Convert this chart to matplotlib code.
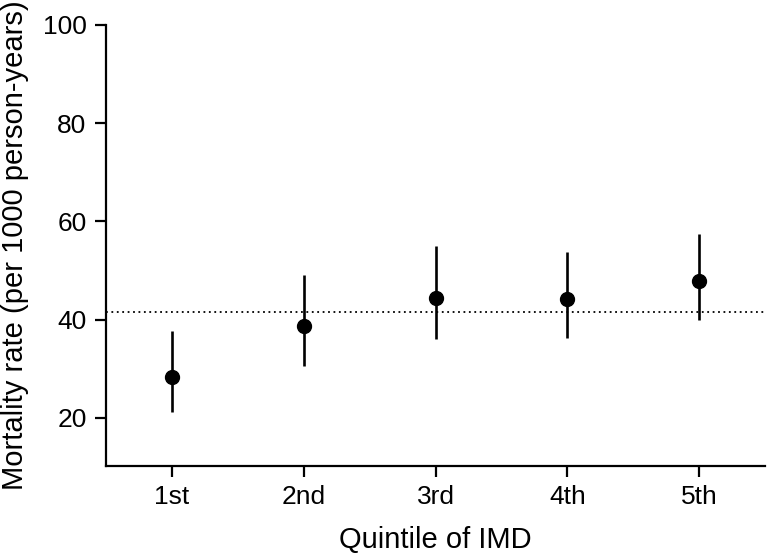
import matplotlib
matplotlib.use("Agg")
import matplotlib.pyplot as plt

categories = ["1st", "2nd", "3rd", "4th", "5th"]
rate = [28.3, 38.7, 44.5, 44.2, 47.9]
lower = [21.2, 30.5, 36.0, 36.3, 39.9]
upper = [37.7, 49.0, 55.1, 53.7, 57.4]
overall = 41.6
yticks = [20, 40, 60, 80, 100]

plt.rcParams['font.family'] = ['Liberation Sans', 'DejaVu Sans']

fig = plt.figure(figsize=(7.67, 5.56), dpi=100)
ax = fig.add_axes([106/767, 1-466/556, (765-106)/767, (466-25)/556])

x = list(range(1, len(categories)+1))
err_lo = [r - l for r, l in zip(rate, lower)]
err_hi = [u - r for r, u in zip(rate, upper)]
ax.axhline(overall, color='black', linestyle=(0, (1, 2)), linewidth=1.3, zorder=1)
ax.errorbar(x, rate, yerr=[err_lo, err_hi], fmt='o', color='black',
            markersize=10, elinewidth=1.9, capsize=0, zorder=3)

ax.set_xlim(0.5, 5.5)
ax.set_ylim(10.2, 100)
ax.set_xticks(x)
ax.set_xticklabels(categories)
ax.set_yticks(yticks)
ax.spines['top'].set_visible(False)
ax.spines['right'].set_visible(False)
ax.spines['left'].set_bounds(10.2, 100)
for s in ['left', 'bottom']:
    ax.spines[s].set_linewidth(1.6)
ax.tick_params(axis='both', labelsize=19, length=8, width=1.6, pad=6)
ax.set_ylabel("Mortality rate (per 1000 person-years)", fontsize=21, labelpad=10)
ax.set_xlabel("Quintile of IMD", fontsize=21, labelpad=12)

fig.savefig("out.png", dpi=100)
